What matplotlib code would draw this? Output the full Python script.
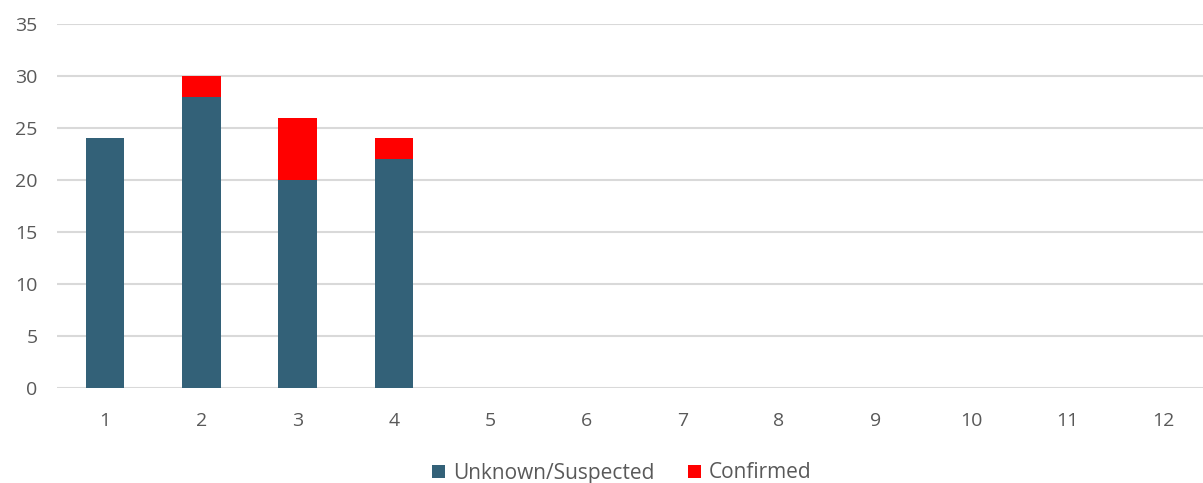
import matplotlib.pyplot as plt
import numpy as np

categories = ['1', '2', '3', '4', '5', '6', '7', '8', '9', '10', '11', '12']
unknown = [24, 28, 20, 22, 0, 0, 0, 0, 0, 0, 0, 0]
confirmed = [0, 2, 6, 2, 0, 0, 0, 0, 0, 0, 0, 0]

plt.rcParams['font.family'] = ['Open Sans', 'DejaVu Sans']

fig = plt.figure(figsize=(12.03, 4.83), dpi=100)
# plot area runs a little past the right edge, like the cropped original
ax = fig.add_axes([57 / 1203, 95 / 483, 1155 / 1203, 364 / 483])

x = np.arange(len(categories))
ax.bar(x, unknown, width=0.4, color='#336178', label='Unknown/Suspected', zorder=3)
ax.bar(x, confirmed, width=0.4, bottom=unknown, color='#FF0000', label='Confirmed', zorder=3)

ax.set_xlim(-0.5, len(categories) - 0.5)
ax.set_ylim(0, 35)
ax.set_yticks(range(0, 36, 5))
ax.set_xticks(x)
ax.set_xticklabels(categories)
ax.yaxis.grid(True, color='#D9D9D9', linewidth=1.5, zorder=0)
for s in ax.spines.values():
    s.set_visible(False)
ax.tick_params(length=0, labelsize=14, labelcolor='#595959')
ax.tick_params(axis='y', pad=14)
ax.tick_params(axis='x', pad=17)

fig.legend(*ax.get_legend_handles_labels(), loc='center',
           bbox_to_anchor=(622 / 1203, 1 - 473 / 483), ncol=2, frameon=False,
           fontsize=15, labelcolor='#595959', handlelength=0.6, handleheight=0.6,
           handletextpad=0.4, columnspacing=1.6)

fig.savefig('out.png', dpi=100)
